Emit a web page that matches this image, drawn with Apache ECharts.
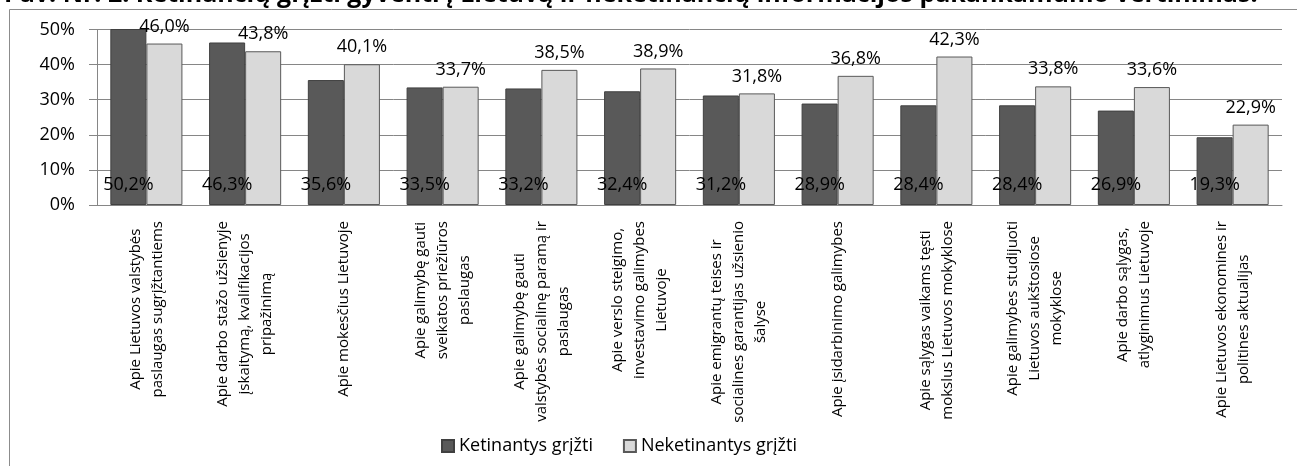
<!DOCTYPE html>
<html>
<head>
<meta charset="utf-8">
<script src="https://cdn.jsdelivr.net/npm/echarts@6/dist/echarts.min.js"></script>
<style>
html,body{margin:0;padding:0;background:#fff;}
#chart{width:1297px;height:466px;}
</style>
</head>
<body>
<div id="chart"></div>
<script>
const titleText = 'Pav. Nr. 2. Ketinančių grįžti gyventi į Lietuvą ir neketinančių informacijos pakankamumo vertinimas.';
const categories = [
  'Apie Lietuvos valstybės\npaslaugas sugrįžtantiems',
  'Apie darbo stažo užsienyje\nįskaitymą, kvalifikacijos\npripažinimą',
  'Apie mokesčius Lietuvoje',
  'Apie galimybę gauti\nsveikatos priežiūros\npaslaugas',
  'Apie galimybę gauti\nvalstybės socialinę paramą ir\npaslaugas',
  'Apie verslo steigimo,\ninvestavimo galimybes\nLietuvoje',
  'Apie emigrantų teises ir\nsocialines garantijas užsienio\nšalyse',
  'Apie įsidarbinimo galimybes',
  'Apie sąlygas vaikams tęsti\nmokslus Lietuvos mokyklose',
  'Apie galimybes studijuoti\nLietuvos aukštosiose\nmokyklose',
  'Apie darbo sąlygas,\natlyginimus Lietuvoje',
  'Apie Lietuvos ekonomines ir\npolitines aktualijas'
];
const seriesNames = ['Ketinantys grįžti', 'Neketinantys grįžti'];
const ketinantys = [50.2, 46.3, 35.6, 33.5, 33.2, 32.4, 31.2, 28.9, 28.4, 28.4, 26.9, 19.3];
const neketinantys = [46.0, 43.8, 40.1, 33.7, 38.5, 38.9, 31.8, 36.8, 42.3, 33.8, 33.6, 22.9];

const FONT = 'Open Sans';
const fmt = v => v.toFixed(1).replace('.', ',') + '%';

const chart = echarts.init(document.getElementById('chart'), null, {renderer: 'canvas'});
chart.setOption({
  animation: false,
  backgroundColor: '#fff',
  textStyle: {fontFamily: FONT},
  graphic: [
    {type: 'rect', shape: {x: 9.5, y: 9.5, width: 1300, height: 480}, style: {fill: 'none', stroke: '#8c8c8c', lineWidth: 1}, z: -1},
    {type: 'text', x: 4, y: -18, style: {text: titleText, fontSize: 25, fontWeight: 'bold', fontFamily: FONT, fill: '#000', align: 'left', verticalAlign: 'top'}}
  ],
  grid: {left: 97, right: 15, top: 29.5, bottom: 261, containLabel: false},
  legend: {
    bottom: 6, left: 436,
    itemWidth: 12, itemHeight: 12, itemGap: 30,
    icon: 'rect',
    textStyle: {fontSize: 18, color: '#000', fontFamily: FONT},
    data: seriesNames
  },
  xAxis: {
    type: 'category',
    data: categories,
    axisLine: {lineStyle: {color: '#868686'}},
    axisTick: {length: 5, lineStyle: {color: '#868686'}},
    axisLabel: {
      rotate: 90, interval: 0, margin: 16, color: '#000',
      formatter: v => v.split('\n').map(l => '{c|' + l + '}').join('\n'),
      rich: {c: {align: 'center', fontSize: 15, lineHeight: 22, fontFamily: FONT, color: '#000'}}
    }
  },
  yAxis: {
    type: 'value', min: 0, max: 50, interval: 10,
    axisLine: {show: true, lineStyle: {color: '#868686'}},
    axisTick: {show: true, length: 8, lineStyle: {color: '#868686'}},
    splitLine: {lineStyle: {color: '#868686'}},
    axisLabel: {formatter: v => v + '%', fontSize: 18, color: '#000', margin: 22, fontFamily: FONT}
  },
  series: [
    {
      name: seriesNames[0], type: 'bar', data: ketinantys,
      barGap: '0%', barCategoryGap: '27%',
      itemStyle: {color: '#595959', borderColor: '#404040', borderWidth: 1},
      label: {show: true, position: 'insideBottom', distance: 11, formatter: p => fmt(p.value), fontSize: 18, color: '#000', fontFamily: FONT}
    },
    {
      name: seriesNames[1], type: 'bar', data: neketinantys,
      itemStyle: {color: '#d9d9d9', borderColor: '#595959', borderWidth: 1},
      label: {show: true, position: 'top', distance: 8, formatter: p => fmt(p.value), fontSize: 18, color: '#000', fontFamily: FONT}
    }
  ]
});
</script>
</body>
</html>
